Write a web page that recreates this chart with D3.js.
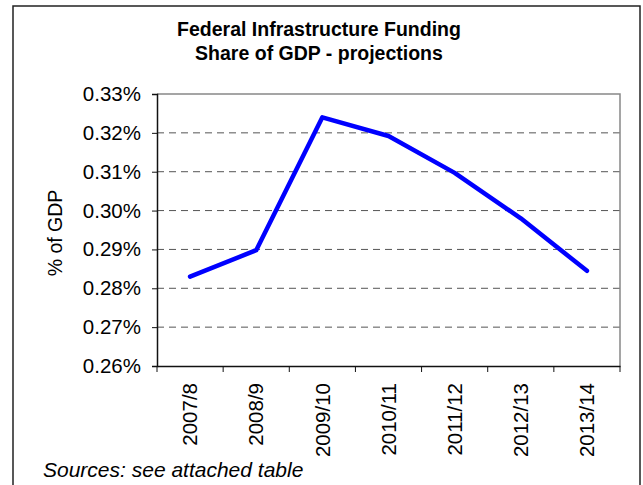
<!DOCTYPE html>
<html>
<head>
<meta charset="utf-8">
<title>Federal Infrastructure Funding</title>
<script src="https://d3js.org/d3.v7.min.js"></script>
<style>
  body { margin: 0; background: #fff; }
  text { font-family: "Liberation Sans", Arial, sans-serif; fill: #000; }
</style>
</head>
<body>
<div id="chart"></div>
<script>
  // data
  const years = ["2007/8", "2008/9", "2009/10", "2010/11", "2011/12", "2012/13", "2013/14"];
  const shareOfGdp = [0.2830, 0.2898, 0.3240, 0.3192, 0.3097, 0.2980, 0.2845];
  const yTicks = [0.26, 0.27, 0.28, 0.29, 0.30, 0.31, 0.32, 0.33];

  const W = 643, H = 485;
  const margin = { top: 94, right: 23, bottom: 119, left: 157 },
    width = W - margin.left - margin.right,
    height = H - margin.top - margin.bottom;

  const root = d3.select("#chart").append("svg")
    .attr("width", W)
    .attr("height", H);

  // outer frame
  root.append("rect")
    .attr("x", 13).attr("y", 6)
    .attr("width", 627).attr("height", 490)
    .attr("fill", "none")
    .attr("stroke", "#222")
    .attr("stroke-width", 1.5);

  // title
  const title = root.append("text")
    .attr("text-anchor", "middle")
    .style("font-size", "19.5px")
    .style("font-weight", "bold");
  title.append("tspan").attr("x", 319).attr("y", 36).text("Federal Infrastructure Funding");
  title.append("tspan").attr("x", 319).attr("y", 60).text("Share of GDP - projections");

  const svg = root.append("g")
    .attr("transform", `translate(${margin.left},${margin.top})`);

  // scales
  const x = d3.scaleBand()
    .domain(years)
    .range([0, width]);

  const y = d3.scaleLinear()
    .domain([0.26, 0.33])
    .range([height, 0]);

  // dashed gridlines
  svg.append("g")
    .selectAll("line")
    .data(yTicks.filter(d => d > 0.26 && d < 0.33))
    .enter().append("line")
    .attr("x1", 0).attr("x2", width)
    .attr("y1", d => y(d)).attr("y2", d => y(d))
    .attr("stroke", "#555")
    .attr("stroke-width", 1)
    .attr("stroke-dasharray", "7,5");

  // top and right border of plot area
  svg.append("path")
    .attr("d", `M0,${y(0.33)}H${width}V${height}`)
    .attr("fill", "none")
    .attr("stroke", "#888")
    .attr("stroke-width", 1.5);

  // y axis
  const yAxis = svg.append("g")
    .call(d3.axisLeft(y)
      .tickValues(yTicks)
      .tickSize(5)
      .tickPadding(11)
      .tickFormat(d => d3.format(".2f")(d) + "%"));
  yAxis.select(".domain").attr("stroke", "#111").attr("stroke-width", 1.5);
  yAxis.selectAll(".tick line").attr("stroke", "#111");
  yAxis.selectAll("text").style("font-size", "20.5px");

  // x axis with ticks at band edges
  const xAxis = svg.append("g")
    .attr("transform", `translate(0,${height})`)
    .call(d3.axisBottom(x).tickSize(0).tickPadding(0));
  xAxis.select(".domain").attr("stroke", "#111").attr("stroke-width", 1.5);
  xAxis.selectAll(".tick text")
    .style("font-size", "20.5px")
    .attr("text-anchor", "end")
    .attr("transform", "rotate(-90)")
    .attr("x", -17)
    .attr("y", 0)
    .attr("dy", "0.35em");
  xAxis.selectAll(".edge")
    .data(d3.range(years.length + 1))
    .enter().append("line")
    .attr("class", "edge")
    .attr("x1", i => i * x.step()).attr("x2", i => i * x.step())
    .attr("y1", 0).attr("y2", 6)
    .attr("stroke", "#111");

  // y label
  svg.append("text")
    .attr("transform", `translate(-95,${height / 2 + 3}) rotate(-90)`)
    .attr("text-anchor", "middle")
    .style("font-size", "19.5px")
    .text("% of GDP");

  // the line
  const line = d3.line()
    .x((d, i) => x(years[i]) + x.bandwidth() / 2)
    .y(d => y(d));

  svg.append("path")
    .datum(shareOfGdp)
    .attr("d", line)
    .attr("fill", "none")
    .attr("stroke", "#0000ff")
    .attr("stroke-width", 4.5)
    .attr("stroke-linejoin", "round")
    .attr("stroke-linecap", "round");

  // source note
  root.append("text")
    .attr("x", 43).attr("y", 476.5)
    .style("font-size", "21px")
    .style("font-style", "italic")
    .text("Sources: see attached table");
</script>
</body>
</html>
